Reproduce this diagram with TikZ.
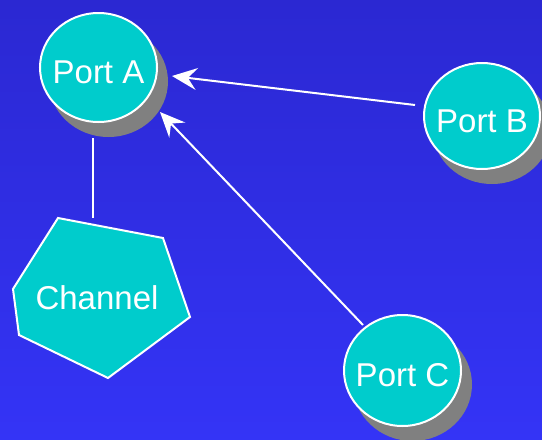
\documentclass[tikz,border=0pt]{standalone}
\usepackage{fontspec}
\setmainfont{Liberation Sans}
\usetikzlibrary{shapes.geometric,arrows.meta,calc}
\definecolor{bgtop}{RGB}{43,40,210}
\definecolor{bgbottom}{RGB}{52,52,246}
\definecolor{portfill}{RGB}{0,204,204}
\definecolor{shadowgray}{RGB}{128,128,128}
% label of a port: zero width, set a little below the centre
\newcommand{\portlabel}[1]{\makebox[0pt]{\raisebox{-5pt}[\height][\depth]{#1}}}
\tikzset{
  port/.style={ellipse, draw=white, line width=2pt, fill=portfill,
    inner sep=0pt, text=white, font=\fontsize{33}{36}\selectfont},
  portshadow/.style={fill=shadowgray},
  link/.style={draw=white, line width=2pt},
  arrowlink/.style={link, -{Stealth[length=25pt, width=22pt, inset=9pt]}},
}
\begin{document}
\begin{tikzpicture}[x=1pt, y=-1pt]
  % background
  \useasboundingbox (0,0) rectangle (542,440);
  \shade[top color=bgtop, bottom color=bgbottom] (0,0) rectangle (542,440);

  % drop shadows of the ports
  \fill[portshadow] (108.5,81.5) ellipse [x radius=59.5, y radius=55.5];
  \fill[portshadow] (492,130) ellipse [x radius=59, y radius=54];
  \fill[portshadow] (412.5,384.5) ellipse [x radius=59.5, y radius=56.5];

  % ports
  \node[port, minimum width=117pt, minimum height=109pt] (A) at (98.5,67.5) {\portlabel{Port A}};
  \node[port, minimum width=116pt, minimum height=106pt] (B) at (482,116) {\portlabel{Port B}};
  \node[port, minimum width=117pt, minimum height=111pt] (C) at (402.5,370.5) {\portlabel{Port C}};

  % channel
  \fill[portfill, draw=white, line width=2pt]
    (58,218) -- (163,238) -- (190,317) -- (108,378) -- (19,335) -- (13,289) -- cycle;
  \node[text=white, font=\fontsize{33}{36}\selectfont] (Ch) at (97,298) {Channel};

  % connector end points
  \coordinate (aBottom) at ($(A.center)+(-5.5,70.5)$);
  \coordinate (chTop) at ($(Ch.center)+(-4,-80)$);
  \coordinate (bOut) at ($(B.center)+(-67,-11)$);
  \coordinate (aInB) at ($(A.center)+(73.5,8.5)$);
  \coordinate (cOut) at ($(C.center)+(-39.5,-45.5)$);
  \coordinate (aInC) at ($(A.center)+(61.5,44.5)$);

  % connectors
  \draw[link] (aBottom) -- (chTop);
  \draw[arrowlink] (bOut) -- (aInB);
  \draw[arrowlink] (cOut) -- (aInC);
\end{tikzpicture}
\end{document}
